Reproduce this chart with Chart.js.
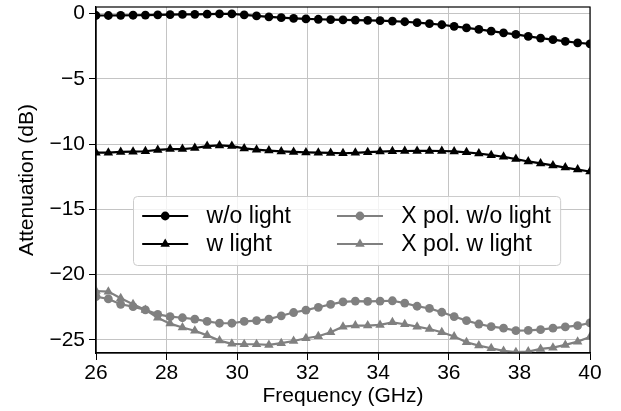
<!DOCTYPE html>
<html>
<head>
<meta charset="utf-8">
<script src="https://cdn.jsdelivr.net/npm/chart.js@4.4.0/dist/chart.umd.min.js"></script>
<style>
  html, body { margin: 0; padding: 0; background: #fff; }
</style>
</head>
<body>
<canvas id="chart" width="621" height="411"></canvas>
<script>
// frequency points (GHz)
const freq = [26, 26.35, 26.7, 27.05, 27.4, 27.75, 28.1, 28.45, 28.8, 29.15, 29.5, 29.85, 30.2, 30.55, 30.9,
    31.25, 31.6, 31.95, 32.3, 32.65, 33, 33.35, 33.7, 34.05, 34.4, 34.75, 35.1, 35.45, 35.8, 36.15, 36.5,
    36.85, 37.2, 37.55, 37.9, 38.25, 38.6, 38.95, 39.3, 39.65, 40];

// attenuation (dB)
const woLight = [-0.15, -0.15, -0.14, -0.13, -0.12, -0.1, -0.08, -0.07, -0.06, -0.05, -0.02, -0.02, -0.1, -0.18,
    -0.25, -0.32, -0.37, -0.41, -0.44, -0.46, -0.48, -0.5, -0.52, -0.55, -0.58, -0.63, -0.7, -0.78, -0.86,
    -0.98, -1.1, -1.22, -1.35, -1.48, -1.6, -1.75, -1.88, -2.0, -2.13, -2.24, -2.32];
const wLight = [-10.66, -10.66, -10.6, -10.58, -10.55, -10.45, -10.38, -10.38, -10.3, -10.15, -10.1, -10.15,
    -10.33, -10.43, -10.5, -10.56, -10.6, -10.64, -10.66, -10.68, -10.7, -10.67, -10.62, -10.57, -10.54,
    -10.53, -10.52, -10.52, -10.53, -10.56, -10.63, -10.72, -10.85, -10.97, -11.15, -11.33, -11.48, -11.63,
    -11.8, -11.95, -12.1];
const xpolWoLight = [-21.68, -21.86, -22.27, -22.45, -22.7, -23.04, -23.22, -23.3, -23.4, -23.58, -23.72, -23.72,
    -23.58, -23.52, -23.4, -23.15, -22.9, -22.72, -22.5, -22.28, -22.08, -22.02, -22.04, -22.02, -22.0,
    -22.18, -22.42, -22.58, -22.88, -23.21, -23.52, -23.78, -23.98, -24.1, -24.29, -24.27, -24.21, -24.1,
    -24.0, -23.9, -23.7];
const xpolWLight = [-21.25, -21.3, -21.8, -22.27, -22.7, -23.3, -23.75, -24.05, -24.3, -24.65, -25.05, -25.3,
    -25.33, -25.33, -25.38, -25.25, -25.08, -24.87, -24.72, -24.41, -23.98, -23.9, -23.9, -23.85, -23.65,
    -23.8, -23.98, -24.16, -24.41, -24.74, -25.18, -25.43, -25.64, -25.84, -25.94, -25.89, -25.69, -25.59,
    -25.38, -25.13, -24.77];

const labels = ["w/o light", "w light", "X pol. w/o light", "X pol. w light"];
const xTicks = [26, 28, 30, 32, 34, 36, 38, 40];
const yTicks = [0, -5, -10, -15, -20, -25];

const FONT = '"Liberation Sans", Arial, sans-serif';

function toXY(ys) {
    return ys.map((y, i) => ({ x: freq[i], y: y }));
}

function series(label, ys, color, style) {
    return {
        label: label,
        data: toXY(ys),
        borderColor: color,
        backgroundColor: color,
        borderWidth: 2.2,
        pointStyle: style,
        pointRadius: style === "triangle" ? 5.5 : 4.4,
        pointBorderWidth: 0,
        tension: 0
    };
}

// axes frame + legend box drawn inside the plot area
const frameAndLegend = {
    id: "frameAndLegend",
    afterDraw(chart) {
        const ctx = chart.ctx;
        const a = chart.chartArea;
        ctx.save();
        ctx.strokeStyle = "#000";
        ctx.lineWidth = 1.2;
        ctx.strokeRect(a.left, a.top, a.right - a.left, a.bottom - a.top);

        const fs = 23;
        ctx.font = fs + "px " + FONT;
        const sets = chart.data.datasets;
        const pad = 0.4 * fs, handle = 2 * fs, gap = 0.8 * fs, colGap = 2 * fs;
        const boxX = 133, boxY = 196, boxH = 69;
        const rows = [boxY + 20, boxY + 48];
        const col1W = Math.max(ctx.measureText(sets[0].label).width, ctx.measureText(sets[1].label).width);
        const col2W = Math.max(ctx.measureText(sets[2].label).width, ctx.measureText(sets[3].label).width);
        const c1 = boxX + pad;
        const c2 = c1 + handle + gap + col1W + colGap;
        const boxW = (c2 + handle + gap + col2W + pad) - boxX;

        ctx.fillStyle = "rgba(255,255,255,0.8)";
        ctx.strokeStyle = "#cccccc";
        ctx.lineWidth = 1;
        ctx.beginPath();
        ctx.roundRect(boxX + 0.5, boxY + 0.5, boxW, boxH, 4);
        ctx.fill();
        ctx.stroke();

        sets.forEach((ds, i) => {
            const x = i < 2 ? c1 : c2;
            const y = rows[i % 2];
            ctx.strokeStyle = ds.borderColor;
            ctx.fillStyle = ds.borderColor;
            ctx.lineWidth = ds.borderWidth;
            ctx.beginPath();
            ctx.moveTo(x, y);
            ctx.lineTo(x + handle, y);
            ctx.stroke();
            Chart.helpers.drawPoint(ctx, { pointStyle: ds.pointStyle, radius: ds.pointRadius, borderWidth: 0 }, x + handle / 2, y);
            ctx.fillStyle = "#000";
            ctx.textBaseline = "middle";
            ctx.textAlign = "left";
            ctx.fillText(ds.label, x + handle + gap, y + 1);
        });
        ctx.restore();
    }
};

const minus = v => String(v).replace("-", "\u2212");

new Chart(document.getElementById("chart"), {
    type: "line",
    data: {
        datasets: [
            series(labels[0], woLight, "#000000", "circle"),
            series(labels[1], wLight, "#000000", "triangle"),
            series(labels[2], xpolWoLight, "#808080", "circle"),
            series(labels[3], xpolWLight, "#808080", "triangle")
        ]
    },
    options: {
        responsive: false,
        animation: false,
        layout: { padding: { left: 0, right: 31, top: 7, bottom: 0 } },
        plugins: { legend: { display: false }, tooltip: { enabled: false } },
        scales: {
            x: {
                type: "linear",
                min: 26,
                max: 40,
                afterBuildTicks: s => { s.ticks = xTicks.map(v => ({ value: v })); },
                afterFit: s => { s.height = 58; s.paddingLeft = 0; s.paddingRight = 0; },
                grid: { color: "#c4c4c4", lineWidth: 1, tickLength: 7, tickColor: "#000" },
                border: { color: "#000", width: 1.2 },
                ticks: { color: "#000", font: { family: FONT, size: 21 }, padding: 1, maxRotation: 0, callback: minus },
                title: { display: true, text: "Frequency (GHz)", color: "#000", font: { family: FONT, size: 21 }, padding: { top: 0, bottom: 2 } }
            },
            y: {
                min: -26,
                max: 0.5,
                afterBuildTicks: s => { s.ticks = yTicks.map(v => ({ value: v })); },
                afterFit: s => { s.width = 96; s.paddingTop = 0; s.paddingBottom = 0; },
                grid: { color: "#c4c4c4", lineWidth: 1, tickLength: 7, tickColor: "#000" },
                border: { color: "#000", width: 1.2 },
                ticks: { color: "#000", font: { family: FONT, size: 21 }, padding: 4, callback: minus },
                title: { display: true, text: "Attenuation (dB)", color: "#000", font: { family: FONT, size: 21 }, padding: { top: 15, bottom: 0 } }
            }
        }
    },
    plugins: [frameAndLegend]
});
</script>
</body>
</html>
